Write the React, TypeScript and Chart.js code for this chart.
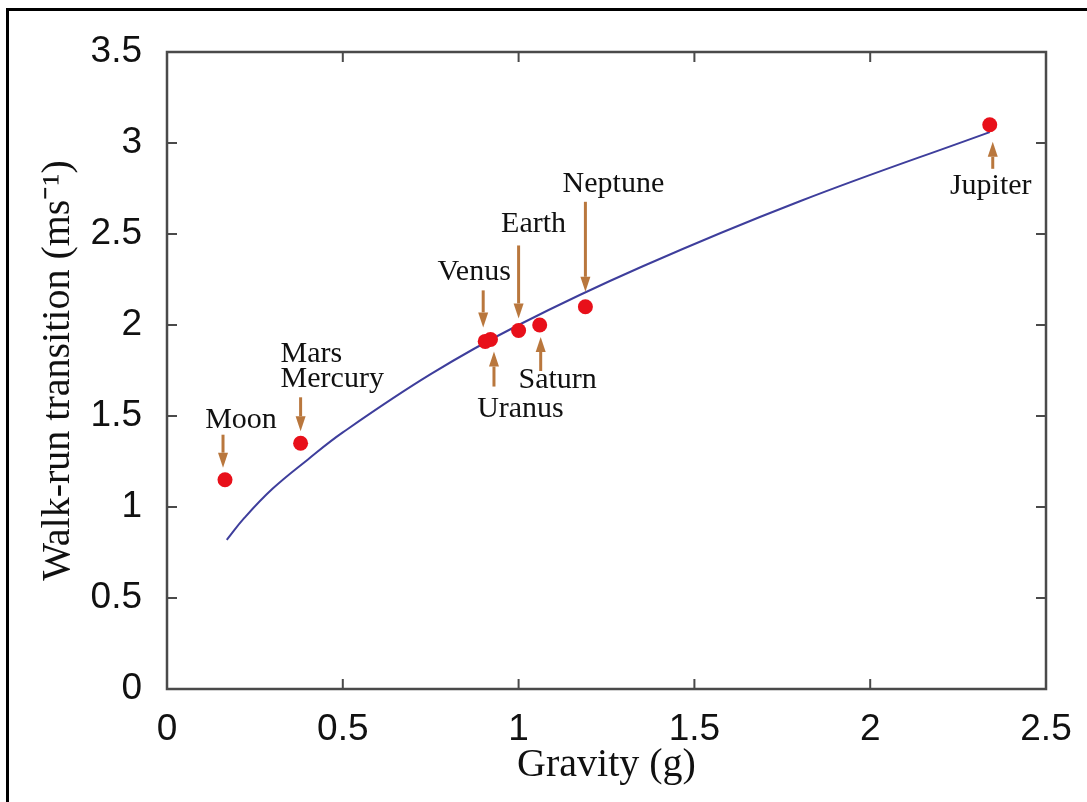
import { useEffect, useRef } from 'react';
import { Chart, registerables } from 'chart.js';

Chart.register(...registerables);

// Measured bodies: gravity (g) and walk-run transition speed (m/s)
const bodyNames = ['Moon', 'Mars/Mercury', 'Venus', 'Uranus', 'Earth', 'Saturn', 'Neptune', 'Jupiter'];
const bodyGravity = [0.165, 0.38, 0.905, 0.92, 1.0, 1.06, 1.19, 2.34];
const bodySpeed = [1.15, 1.35, 1.91, 1.92, 1.97, 2.0, 2.1, 3.1];

// Fitted curve
const curveGravity = [0.17, 0.22, 0.3, 0.4, 0.5, 0.75, 1.0, 1.35, 1.8, 2.34];
const curveSpeed = [0.82, 0.94, 1.1, 1.26, 1.41, 1.73, 2.0, 2.32, 2.68, 3.06];

const xTickValues = [0, 0.5, 1, 1.5, 2, 2.5];
const yTickValues = [0, 0.5, 1, 1.5, 2, 2.5, 3, 3.5];

// Annotation layout (pixel offsets from each body's marker)
const annotations = [
  { point: 0, lines: ['Moon'], align: 'center', tx: 16, ty: [-52], ax: -2, tail: -45, tip: -12 },
  { point: 1, lines: ['Mars', 'Mercury'], align: 'left', tx: -20, ty: [-81, -56], ax: 0, tail: -46, tip: -12 },
  { point: 2, lines: ['Venus'], align: 'center', tx: -11, ty: [-61], ax: -2, tail: -51, tip: -14 },
  { point: 3, lines: ['Uranus'], align: 'center', tx: 30, ty: [77], ax: 3.5, tail: 47, tip: 12 },
  { point: 4, lines: ['Earth'], align: 'center', tx: 15, ty: [-98], ax: 0, tail: -85, tip: -12 },
  { point: 5, lines: ['Saturn'], align: 'center', tx: 18, ty: [63], ax: 1, tail: 46, tip: 12 },
  { point: 6, lines: ['Neptune'], align: 'center', tx: 28, ty: [-115], ax: 0, tail: -105, tip: -15 },
  { point: 7, lines: ['Jupiter'], align: 'center', tx: 1, ty: [69], ax: 3, tail: 44, tip: 17 },
];

const ARROW = '#b9773d';
const AXIS = '#4a4a4a';

const framePlugin = {
  id: 'frame',
  beforeDraw(chart: any) {
    const { ctx } = chart;
    ctx.save();
    ctx.fillStyle = '#fff';
    ctx.fillRect(0, 0, chart.width, chart.height);
    ctx.fillStyle = '#000';
    ctx.fillRect(6, 8, 3, chart.height - 8);
    ctx.fillRect(6, 8, chart.width - 6, 3);
    ctx.restore();
  },
  beforeDatasetsDraw(chart: any) {
    const { ctx, chartArea: a, scales } = chart;
    ctx.save();
    ctx.strokeStyle = AXIS;
    ctx.lineWidth = 2.5;
    ctx.strokeRect(a.left, a.top, a.right - a.left, a.bottom - a.top);
    ctx.lineWidth = 2;
    const tl = 10;
    ctx.beginPath();
    xTickValues.forEach((v) => {
      const px = scales.x.getPixelForValue(v);
      if (Math.abs(px - a.left) < 2 || Math.abs(px - a.right) < 2) return;
      ctx.moveTo(px, a.bottom);
      ctx.lineTo(px, a.bottom - tl);
      ctx.moveTo(px, a.top);
      ctx.lineTo(px, a.top + tl);
    });
    yTickValues.forEach((v) => {
      const py = scales.y.getPixelForValue(v);
      if (Math.abs(py - a.top) < 2 || Math.abs(py - a.bottom) < 2) return;
      ctx.moveTo(a.left, py);
      ctx.lineTo(a.left + tl, py);
      ctx.moveTo(a.right, py);
      ctx.lineTo(a.right - tl, py);
    });
    ctx.stroke();
    ctx.restore();
  },
  afterDatasetsDraw(chart: any) {
    const { ctx, scales } = chart;
    ctx.save();
    annotations.forEach((an) => {
      const px = scales.x.getPixelForValue(bodyGravity[an.point]);
      const py = scales.y.getPixelForValue(bodySpeed[an.point]);
      // arrow
      const x = px + an.ax;
      const y0 = py + an.tail;
      const y1 = py + an.tip;
      const dir = y1 > y0 ? 1 : -1;
      const headLen = 15;
      const headW = 5;
      ctx.strokeStyle = ARROW;
      ctx.fillStyle = ARROW;
      ctx.lineWidth = 3;
      ctx.beginPath();
      ctx.moveTo(x, y0);
      ctx.lineTo(x, y1 - dir * headLen);
      ctx.stroke();
      ctx.beginPath();
      ctx.moveTo(x - headW, y1 - dir * headLen);
      ctx.lineTo(x + headW, y1 - dir * headLen);
      ctx.lineTo(x, y1);
      ctx.closePath();
      ctx.fill();
      // label
      ctx.fillStyle = '#111';
      ctx.font = '30px "Liberation Serif", "Times New Roman", serif';
      ctx.textAlign = an.align as CanvasTextAlign;
      ctx.textBaseline = 'alphabetic';
      an.lines.forEach((line, i) => {
        ctx.fillText(line, px + an.tx, py + an.ty[i]);
      });
    });
    ctx.restore();
  },
};

const fmt = (v: any) => String(Number(v));

export default function App() {
  const ref = useRef<HTMLCanvasElement>(null);
  useEffect(() => {
    const chart = new Chart(ref.current as HTMLCanvasElement, {
      type: 'scatter',
      data: {
        datasets: [
          {
            label: 'Fit',
            data: curveGravity.map((g, i) => ({ x: g, y: curveSpeed[i] })),
            showLine: true,
            borderColor: '#3e3e9c',
            borderWidth: 2,
            pointRadius: 0,
            tension: 0.4,
            order: 2,
          } as any,
          {
            label: 'Bodies',
            data: bodyGravity.map((g, i) => ({ x: g, y: bodySpeed[i] })),
            pointRadius: 7.5,
            pointHoverRadius: 7.5,
            backgroundColor: '#e8101a',
            borderWidth: 0,
            order: 1,
          } as any,
        ],
      },
      options: {
        responsive: false,
        animation: false,
        devicePixelRatio: 1,
        layout: { padding: { left: 0, top: 52, right: 41, bottom: 0 } },
        plugins: { legend: { display: false }, tooltip: { enabled: false } },
        scales: {
          x: {
            type: 'linear',
            min: 0,
            max: 2.5,
            afterBuildTicks: (s: any) => {
              s.ticks = xTickValues.map((v) => ({ value: v }));
            },
            afterFit: (s: any) => {
              s.height = 113;
              s.paddingLeft = 0;
              s.paddingRight = 0;
            },
            grid: { display: false, drawTicks: false },
            border: { display: false },
            ticks: {
              padding: 19,
              color: '#111',
              font: { family: '"Liberation Sans", Arial, sans-serif', size: 37 },
              maxRotation: 0,
              callback: fmt,
            },
            title: {
              display: true,
              text: 'Gravity (g)',
              color: '#111',
              font: { family: '"Liberation Serif", "Times New Roman", serif', size: 40 },
              padding: { top: 0, bottom: 13 },
            },
          },
          y: {
            type: 'linear',
            min: 0,
            max: 3.5,
            afterBuildTicks: (s: any) => {
              s.ticks = yTickValues.map((v) => ({ value: v }));
            },
            afterFit: (s: any) => {
              s.width = 167;
              s.paddingTop = 0;
              s.paddingBottom = 0;
            },
            grid: { display: false, drawTicks: false },
            border: { display: false },
            ticks: {
              padding: 25,
              color: '#111',
              font: { family: '"Liberation Sans", Arial, sans-serif', size: 37 },
              callback: fmt,
            },
            title: {
              display: true,
              text: 'Walk-run transition (ms⁻¹)',
              color: '#111',
              font: { family: '"Liberation Serif", "Times New Roman", serif', size: 40 },
              padding: { top: 34, bottom: 0 },
            },
          },
        },
      },
      plugins: [framePlugin],
    });
    return () => chart.destroy();
  }, []);
  return (
    <div style={{ position: 'fixed', left: 0, top: 0, width: 1087, height: 802, background: '#fff' }}>
      <canvas ref={ref} width={1087} height={802} style={{ display: 'block', width: 1087, height: 802 }} />
    </div>
  );
}
